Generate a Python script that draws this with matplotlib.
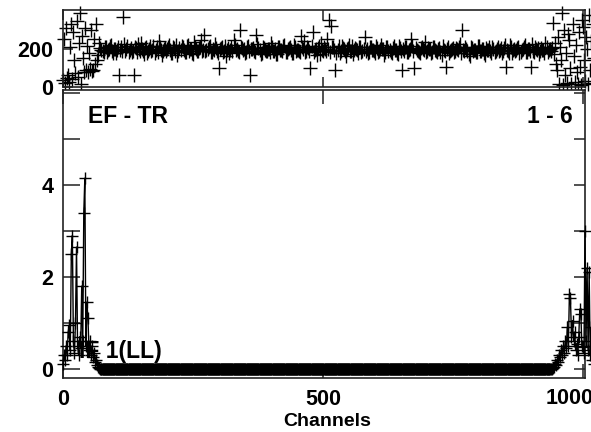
import numpy as np
import matplotlib.pyplot as plt

plt.rcParams['font.family'] = ['Liberation Sans', 'DejaVu Sans']
plt.rcParams['font.weight'] = 'bold'

# channel segments: dense edges (step 2) and the middle (two interleaved step-4 sets)
ch_left = np.arange(0, 72, 2)
ch_mid = np.arange(72, 937, 4)
ch_mid2 = np.arange(74, 935, 4)
ch_right = np.arange(938, 1024, 2)

# phase (degrees)
phase_left = [35, 250, 20, 310, 45, 60, 25, 210, 330, 40, 290, 140, 70, 345, 50, 230,
              390, 12, 270, 150, 80, 310, 90, 215, 75, 180, 95, 300, 85, 88, 250, 120,
              330, 140, 170, 230]
phase_mid = [205, 190, 212, 185, 198, 220, 176, 201, 193, 62,
             208, 370, 187, 214, 196, 181, 62, 203, 226, 190,
             199, 172, 210, 188, 215, 194, 178, 207, 241, 192,
             186, 203, 197, 221, 180, 209, 191, 168, 204, 213,
             195, 183, 218, 200, 177, 236, 198, 189, 211, 186,
             273, 194, 207, 181, 199, 224, 190, 98, 202, 185,
             213, 196, 179, 208, 245, 192, 187, 300, 204, 198,
             183, 215, 62, 197, 190, 273, 206, 175, 211, 194,
             188, 201, 229, 186, 197, 172, 209, 193, 215, 184,
             199, 207, 178, 220, 191, 196, 183, 212, 240, 189,
             203, 98, 289, 195, 166, 214, 230, 187, 200, 251,
             352, 320, 208, 88, 192, 176, 217, 199, 160, 205,
             186, 213, 194, 201, 180, 208, 190, 262, 197, 183,
             211, 193, 176, 204, 189, 219, 198, 185, 207, 192,
             180, 214, 196, 171, 203, 88, 190, 209, 185, 199,
             216, 98, 193, 182, 206, 197, 238, 188, 200, 177,
             210, 192, 185, 203, 168, 195, 105, 212, 189, 198,
             181, 206, 193, 227, 300, 187, 200, 174, 209, 191,
             196, 183, 214, 188, 201, 165, 192, 207, 179, 198,
             186, 212, 194, 180, 203, 105, 190, 218, 176, 199,
             193, 208, 184, 197, 222, 181, 201, 105, 188, 210,
             192, 175, 204, 196, 232, 183, 199]
phase_mid2 = [196, 183, 207, 192, 215, 188, 201, 178, 209, 194,
              187, 223, 199, 181, 205, 190, 212, 184, 197, 230,
              191, 206, 176, 200, 189, 216, 195, 182, 208, 170,
              199, 187, 211, 193, 179, 204, 220, 188, 196, 207,
              182, 214, 191, 198, 174, 209, 187, 203, 248, 195,
              186, 200, 215, 183, 192, 206, 178, 197, 211, 189,
              160, 205, 193, 186, 219, 199, 181, 208, 192, 176,
              210, 188, 197, 203, 184, 226, 195, 179, 205, 191,
              198, 184, 212, 190, 173, 207, 196, 188, 218, 182,
              203, 192, 177, 211, 195, 186, 268, 199, 184, 207,
              190, 216, 181, 198, 204, 175, 193, 212, 187, 200,
              183, 209, 196, 180, 214, 191, 202, 186, 198, 221,
              188, 174, 205, 193, 210, 184, 199, 190, 178, 207,
              195, 186, 213, 182, 201, 197, 170, 209, 191, 185,
              204, 193, 180, 216, 188, 199, 207, 183, 196, 252,
              187, 202, 191, 178, 212, 194, 185, 206, 198, 181,
              209, 190, 197, 183, 215, 188, 201, 176, 194, 205,
              186, 199, 211, 180, 192, 207, 189, 163, 203, 196,
              184, 213, 190, 198, 177, 206, 194, 187, 210, 182,
              199, 191, 205, 186, 219, 193, 180, 208, 195, 188,
              202, 179, 196, 211, 185, 200, 190, 224, 183, 197,
              206, 188, 193, 180, 210, 195]
phase_right = [190, 205, 335, 175, 230, 120, 88, 260, 15, 210, 140, 390, 8, 300, 60,
               180, 20, 280, 246, 100, 12, 330, 160, 25, 220, 75, 15, 290, 105, 10,
               350, 315, 140, 30, 260, 200, 15, 380, 90, 240, 20, 330, 150]

# amplitude (every middle channel sits flat at zero)
amp_ch_mid = np.arange(72, 937)
amp_left = [0.1, 0.3, 0.2, 0.5, 0.3, 0.8, 0.95, 0.4, 2.5, 2.9, 0.6, 0.35, 1.0, 2.65,
            0.5, 0.3, 0.7, 0.45, 1.8, 0.6, 3.4, 4.15, 0.5, 1.45, 1.1, 0.4, 0.6, 0.3,
            0.5, 0.25, 0.35, 0.15, 0.2, 0.08, 0.05, 0.02]
amp_mid_level = 0.0
amp_right = [0.0, 0.0, 0.02, 0.05, 0.1, 0.08, 0.2, 0.15, 0.3, 0.25, 0.4, 0.3, 0.5, 0.35,
             0.6, 0.45, 0.9, 0.5, 1.62, 1.55, 0.7, 1.05, 0.6, 0.8, 0.4, 0.55, 0.3, 0.7,
             1.3, 1.2, 0.5, 0.48, 0.35, 3.0, 0.6, 2.2, 0.4, 2.1, 0.3, 0.9, 0.2, 0.5, 0.1]

ph_channels = np.concatenate([ch_left, ch_mid, ch_mid2, ch_right])
phase = np.concatenate([phase_left, phase_mid, phase_mid2, phase_right])
amp_channels = np.concatenate([ch_left, amp_ch_mid, ch_right])
amp = np.concatenate([amp_left, np.full(len(amp_ch_mid), amp_mid_level), amp_right])

W, H = 591, 432
fig = plt.figure(figsize=(W / 100, H / 100), dpi=100)
L, R = 63 / W, 585 / W
ax_ph = fig.add_axes([L, (H - 86.7) / H, R - L, 76.7 / H])
ax_amp = fig.add_axes([L, (H - 378) / H, R - L, 288 / H])

spine_col = '#222222'
for ax in (ax_ph, ax_amp):
    for s in ax.spines.values():
        s.set_color(spine_col)
        s.set_linewidth(1.2)
    ax.set_xlim(0, 1004)
    ax.set_xticks([0, 500, 1000])
    ax.tick_params(labelsize=15.5, width=1.1, color=spine_col)

ax_ph.plot(ph_channels, phase, linestyle='none', marker='+', ms=10, mew=1.0,
           color='black', clip_on=False)
ax_ph.set_ylim(0, 405)
ax_ph.set_yticks([0, 200])
ax_ph.tick_params(axis='x', direction='in', length=7, top=True, labelbottom=False)
ax_ph.tick_params(axis='y', direction='in', length=7, pad=7)

ax_amp.plot(amp_channels, amp, linestyle='-', lw=1.0, marker='+', ms=9, mew=1.0,
            color='black', clip_on=False, zorder=3)
ax_amp.set_ylim(-0.2, 6.07)
ax_amp.set_yticks([0, 1, 2, 3, 4, 5, 6])
ax_amp.set_yticklabels(['0', '', '2', '', '4', '', ''])
ax_amp.set_xticklabels(['0', '500', ''])
ax_amp.tick_params(axis='x', direction='in', length=10, top=True, pad=8)
ax_amp.tick_params(axis='y', direction='in', length=12, pad=7)
ax_amp.tick_params(axis='y', which='both', right=True)
for t in ax_amp.yaxis.get_ticklines()[1::2]:
    t.set_marker(0)
    t.set_markersize(8)
# the 1000 label sits a little left of its tick in the reference
fig.text(570 / W, 1 - 398 / H, '1000', ha='center', va='center',
         fontsize=15.5, fontweight='bold')
fig.text(327 / W, 1 - 421 / H, 'Channels', ha='center', va='center',
         fontsize=14, fontweight='bold')

fig.text(573 / W, 1 - 123 / H, '1 - 6', ha='right', va='baseline',
         fontsize=16.5, fontweight='bold')
fig.text(88 / W, 1 - 123 / H, 'EF - TR', ha='left', va='baseline',
         fontsize=16.5, fontweight='bold')
fig.text(79 / W, 1 - 358 / H, 'IF 1(LL)', ha='left', va='baseline',
         fontsize=16.5, fontweight='bold', zorder=1)

fig.savefig('out.png', dpi=100)
